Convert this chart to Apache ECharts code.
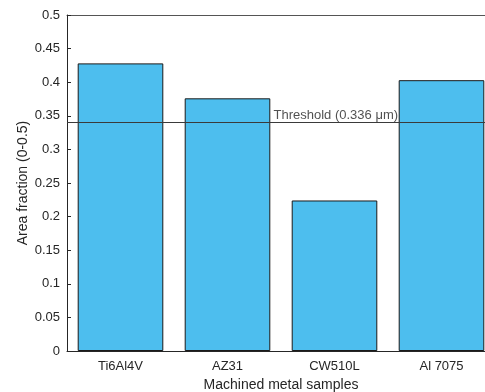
<!DOCTYPE html>
<html><head><meta charset="utf-8">
<script src="https://cdn.jsdelivr.net/npm/echarts@6/dist/echarts.min.js"></script>
<style>html,body{margin:0;padding:0;background:#fff}#c{width:485px;height:392px}</style>
</head><body><div id="c"></div>
<script>
var categories = ['Ti6Al4V', 'AZ31', 'CW510L', 'Al 7075'];
var areaFraction = [0.428, 0.376, 0.224, 0.403];
var thresholdValue = 0.336;
var thresholdLabel = 'Threshold (0.336 \u03bcm)';
var thresholdLabelX = 2.43;
var yTicks = {min: 0, max: 0.5, interval: 0.05};

var font = 'Liberation Sans, Arial, Helvetica, sans-serif';
var axisColor = '#262626';
var chart = echarts.init(document.getElementById('c'), null, {renderer: 'canvas'});
chart.setOption({
  animation: false,
  grid: {left: 67, top: 15, width: 428, bottom: 41, containLabel: false, outerBoundsMode: 'none'},
  xAxis: [{
    type: 'category', data: categories, position: 'bottom',
    name: 'Machined metal samples', nameLocation: 'middle', nameGap: 27,
    nameTextStyle: {fontFamily: font, fontSize: 14, color: axisColor},
    axisLine: {lineStyle: {color: axisColor, width: 1}},
    axisTick: {inside: true, length: 4, alignWithLabel: true, lineStyle: {color: axisColor}},
    axisLabel: {fontFamily: font, fontSize: 13, color: axisColor, margin: 9},
    splitLine: {show: false}
  }, {
    type: 'category', data: categories, position: 'top',
    axisLine: {lineStyle: {color: '#555555', width: 1}},
    axisTick: {inside: true, length: 4, alignWithLabel: true, lineStyle: {color: axisColor}},
    axisLabel: {show: false}, splitLine: {show: false}
  }, {
    type: 'value', min: 0.5, max: 4.5, show: false
  }],
  yAxis: {
    type: 'value', min: yTicks.min, max: yTicks.max, interval: yTicks.interval,
    name: 'Area fraction (0-0.5)', nameLocation: 'middle', nameGap: 37, nameMoveOverlap: false,
    nameTextStyle: {fontFamily: font, fontSize: 14, color: axisColor},
    axisLine: {show: true, lineStyle: {color: axisColor, width: 1}},
    axisTick: {show: true, inside: true, length: 4, lineStyle: {color: axisColor}},
    axisLabel: {fontFamily: font, fontSize: 13, color: axisColor, margin: 7},
    splitLine: {show: false}
  },
  series: [{
    type: 'bar', data: areaFraction, xAxisIndex: 0, barWidth: '80%',
    itemStyle: {color: '#4DBEEE', borderColor: '#1a1a1a', borderWidth: 1},
    markLine: {
      symbol: 'none', silent: true,
      lineStyle: {color: '#3a3a3a', width: 1, type: 'solid'},
      label: {show: false},
      data: [{yAxis: thresholdValue}]
    }
  }, {
    type: 'scatter', xAxisIndex: 2, symbolSize: 0, silent: true,
    data: [[thresholdLabelX, thresholdValue]],
    label: {show: true, formatter: thresholdLabel, position: 'right', distance: 0,
      fontFamily: font, fontSize: 13, color: axisColor, offset: [0, -10]}
  }]
});
</script></body></html>
